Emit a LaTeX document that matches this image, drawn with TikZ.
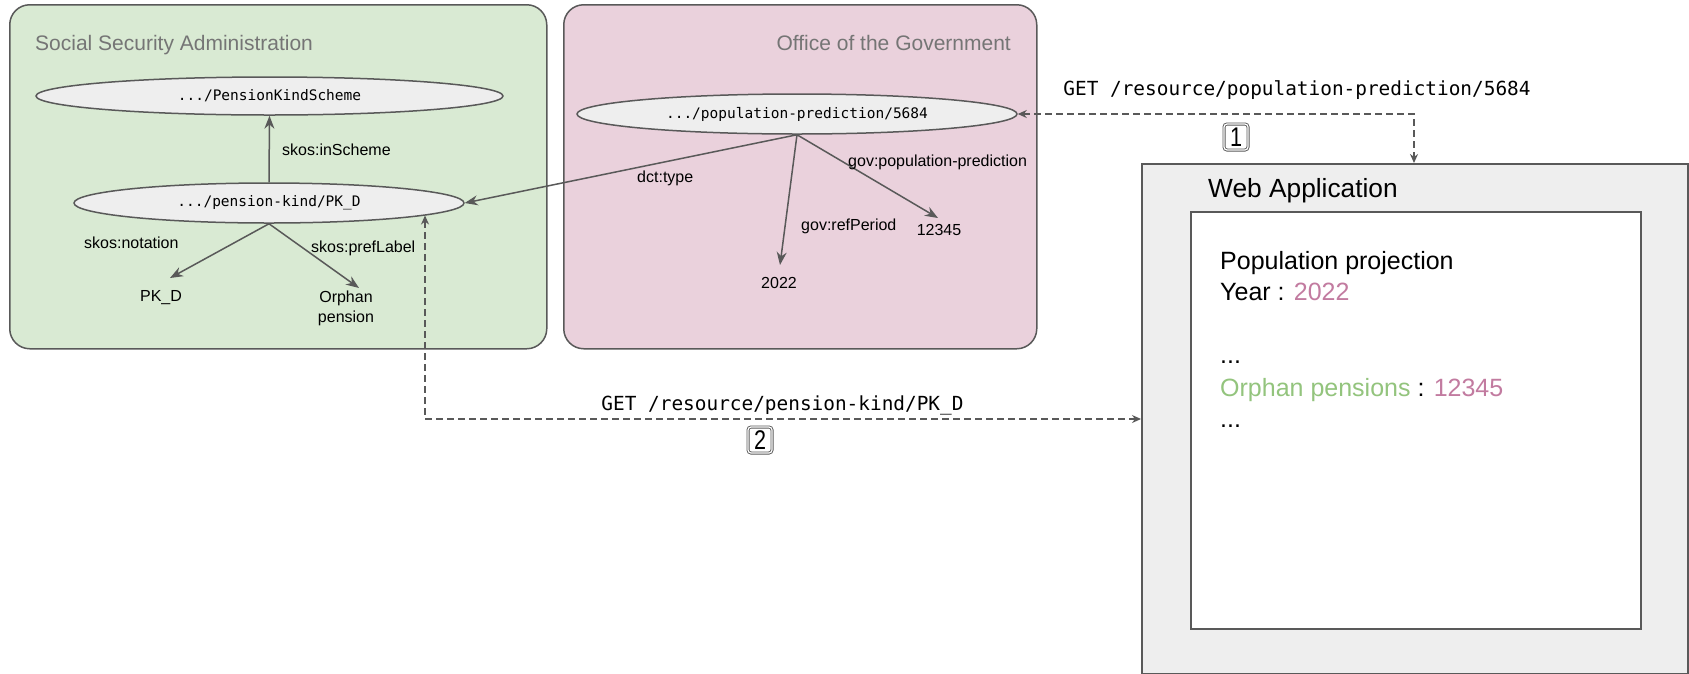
\documentclass[tikz,border=0pt]{standalone}
\usepackage{fontspec}
\setmainfont{Liberation Sans}
\newfontfamily\monof{DejaVu Sans Mono}
\usetikzlibrary{shapes.geometric,arrows.meta,calc}
\definecolor{grnfill}{HTML}{D9EAD3}
\definecolor{pnkfill}{HTML}{EAD1DC}
\definecolor{edgec}{HTML}{595959}
\definecolor{titlec}{HTML}{757575}
\definecolor{ellfill}{HTML}{EEEEEE}
\definecolor{pinkt}{HTML}{C27BA0}
\definecolor{greent}{HTML}{93C47D}
\newcommand{\badgedigit}[1]{\scalebox{0.8}[1]{\fontsize{27}{27}\selectfont #1}}
\begin{document}
\begin{tikzpicture}[x=1pt,y=-1pt,
  orgbox/.style={draw=edgec, line width=1.5pt, rounded corners=20pt, inner sep=0pt, anchor=north west},
  orgtitle/.style={inner sep=0pt, text=titlec, font=\fontsize{21}{25}\selectfont},
  res/.style={ellipse, draw=edgec, line width=1.5pt, fill=ellfill, inner sep=0pt, font=\monof\fontsize{14.5}{17}\selectfont},
  lit/.style={inner sep=0pt, font=\fontsize{16}{20}\selectfont},
  lbl/.style={inner sep=0pt, anchor=base west, font=\fontsize{16}{20}\selectfont},
  arr/.style={draw=edgec, line width=1.5pt, -{Stealth[length=13pt,width=10pt]}},
  dsh/.style={draw=edgec, line width=1.4pt, dash pattern=on 7pt off 4pt, {Stealth[length=9pt,width=8pt]}-{Stealth[length=9pt,width=8pt]}},
  getlbl/.style={inner sep=0pt, font=\monof\fontsize{19.4}{23}\selectfont},
  badge/.style={draw=edgec, double=white, double distance=1.2pt, line width=0.9pt, rounded corners=3pt, minimum width=24pt, minimum height=26pt, inner sep=0pt, fill=white},
  apptext/.style={inner sep=0pt, anchor=base west, font=\fontsize{25}{30}\selectfont}
]
\useasboundingbox (0,0) rectangle (1689,673);
\clip (0,0) rectangle (1689,673);
\fill[white] (0,0) rectangle (1689,673);

% organisation boxes
\node[orgbox, fill=grnfill, minimum width=537pt, minimum height=344pt] (ssa) at (9,4) {};
\node[orgbox, fill=pnkfill, minimum width=473pt, minimum height=344pt] (gov) at (563,4) {};
\node[orgtitle, anchor=base west] (ssatitle) at (35,50) {Social Security Administration};
\node[orgtitle, anchor=base east] (govtitle) at (1011,50) {Office of the Government};

% resources
\node[res, minimum width=467pt, minimum height=38pt] (pks) at (269.5,96) {.../PensionKindScheme};
\node[res, minimum width=390pt, minimum height=40pt] (pk) at (269,203) {.../pension-kind/PK\_D};
\node[res, minimum width=440pt, minimum height=40pt] (pop) at (797,114) {.../population-prediction/5684};

% literals
\node[lit, anchor=base] (pkd) at (161,301.7) {PK\_D};
\node[lit, anchor=north, align=center] (orph) at (346,291) {Orphan\\pension};
\node[lit, anchor=base] (y2022) at (779,288.7) {2022};
\node[lit, anchor=base] (v12345) at (939,235.7) {12345};

% edges
\draw[arr] (pk.north) -- (pks.south);
\draw[arr] (pk.south) -- ([shift={(9,-23.7)}]pkd.base);
\draw[arr] (pk.south) -- ([shift={(13,-3)}]orph.north);
\draw[arr] (pop.south) -- (pk.east);
\draw[arr] (pop.south) -- ([shift={(1,-23.7)}]y2022.base);
\draw[arr] (pop.south) -- ([shift={(-1,-17.7)}]v12345.base);

% edge labels
\node[lbl] (l1) at (282,155.7) {skos:inScheme};
\node[lbl] (l2) at (84,248.7) {skos:notation};
\node[lbl] (l3) at (311,252.7) {skos:prefLabel};
\node[lbl] (l4) at (637,182.7) {dct:type};
\node[lbl] (l5) at (801,230.7) {gov:refPeriod};
\node[lbl] (l6) at (848,166.7) {gov:population-prediction};

% web application
\node[draw=edgec, line width=1.5pt, fill=ellfill, inner sep=0pt, anchor=north west, minimum width=546pt, minimum height=510pt] (web) at (1141,163) {};
\node[inner sep=0pt, anchor=base west, font=\fontsize{26.3}{30}\selectfont] (webtitle) at (1208,197) {Web Application};
\node[draw=edgec, line width=1.5pt, fill=white, inner sep=0pt, anchor=north west, minimum width=450pt, minimum height=417pt] (screen) at (1190,211) {};
\node[apptext] (t1) at (1220,269) {Population projection};
\node[apptext] (t2) at (1220,300) {Year : \textcolor{pinkt}{2022}};
\node[apptext] (t3) at (1220,363) {...};
\node[apptext] (t4) at (1220,396) {\textcolor{greent}{Orphan pensions} : \textcolor{pinkt}{12345}};
\node[apptext] (t5) at (1220,427) {...};

% requests
\draw[dsh] (pop.east) -| ([xshift=273pt]web.north west);
\draw[dsh] ([shift={(156,12.5)}]pk.center) |- ([yshift=-256pt]web.north west);
\node[getlbl] (get1) at (1297,90) {GET /resource/population-prediction/5684};
\node[getlbl] (get2) at (782.5,405) {GET /resource/pension-kind/PK\_D};
\node[badge] (b1) at (1236,137) {\badgedigit{1}};
\node[badge] (b2) at (760,440) {\badgedigit{2}};
\end{tikzpicture}
\end{document}
